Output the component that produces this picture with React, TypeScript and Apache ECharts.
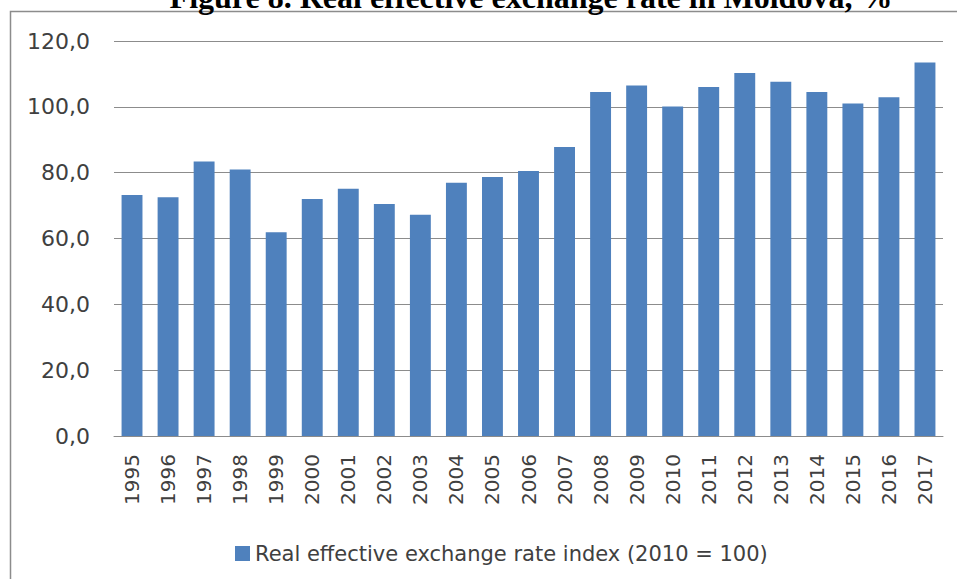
import React, { useEffect, useRef } from "react";
import * as echarts from "echarts";

const years = ["1995","1996","1997","1998","1999","2000","2001","2002","2003","2004","2005","2006","2007","2008","2009","2010","2011","2012","2013","2014","2015","2016","2017"];
const reerIndex = [73.2, 72.5, 83.4, 81.0, 61.9, 72.0, 75.1, 70.5, 67.2, 76.9, 78.7, 80.5, 87.8, 104.5, 106.5, 100.1, 106.0, 110.3, 107.6, 104.5, 101.0, 102.9, 113.5];
const seriesName = "Real effective exchange rate index (2010 = 100)";
const titleText = "Figure 8. Real effective exchange rate in Moldova, %";

export default function App() {
  const ref = useRef<HTMLDivElement>(null);
  useEffect(() => {
    document.body.style.margin = "0";
    const chart = echarts.init(ref.current!, null, { renderer: "svg" });
    chart.setOption({
      animation: false,
      backgroundColor: "#ffffff",
      graphic: [
        {
          type: "rect",
          shape: { x: 10.5, y: 11.5, width: 1000, height: 600 },
          style: { fill: "none", stroke: "#8c8c8c", lineWidth: 1.5 },
          silent: true,
        },
        {
          type: "text",
          x: 531,
          y: -3,
          style: {
            text: titleText,
            font: "bold 32px 'Liberation Serif', 'Times New Roman', serif",
            fill: "#000000",
            align: "center",
            verticalAlign: "middle",
          },
        },
      ],
      grid: { left: 114, right: 14, top: 41, bottom: 143 },
      legend: {
        left: 230,
        top: 538,
        itemWidth: 15,
        itemHeight: 15,
        itemGap: 8,
        icon: "rect",
        textStyle: { fontFamily: "DejaVu Sans", fontSize: 21, color: "#404040" },
        data: [seriesName],
      },
      xAxis: {
        type: "category",
        data: years,
        axisLine: { show: true, lineStyle: { color: "#8c8c8c", width: 1 } },
        axisTick: { show: false },
        axisLabel: {
          rotate: 90,
          margin: 18,
          interval: 0,
          fontFamily: "DejaVu Sans",
          fontSize: 20,
          color: "#404040",
        },
      },
      yAxis: {
        type: "value",
        min: 0,
        max: 120,
        interval: 20,
        axisLine: { show: false },
        axisTick: { show: false },
        splitLine: { lineStyle: { color: "#8c8c8c", width: 1 } },
        axisLabel: {
          margin: 24,
          fontFamily: "DejaVu Sans",
          fontSize: 22,
          color: "#404040",
          formatter: (v: number) => v.toFixed(1).replace(".", ","),
        },
      },
      series: [
        {
          name: seriesName,
          type: "bar",
          data: reerIndex,
          barCategoryGap: "42%",
          itemStyle: { color: "#4F81BD" },
        },
      ],
    });
    return () => chart.dispose();
  }, []);
  return <div ref={ref} style={{ position: "absolute", left: 0, top: 0, width: 957, height: 579 }} />;
}
